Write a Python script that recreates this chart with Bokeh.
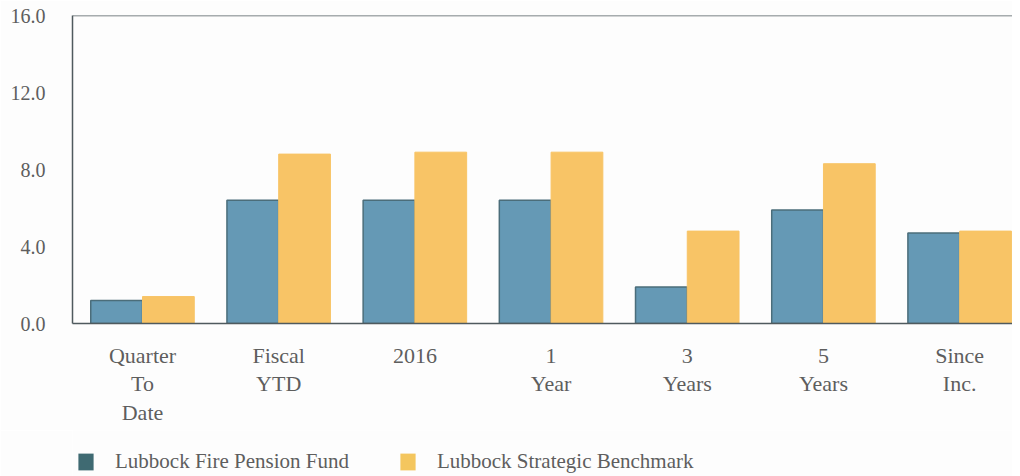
from bokeh.plotting import figure
from bokeh.layouts import column
from bokeh.models import (Range1d, FixedTicker, Span, Legend, LegendItem,
                          ColumnDataSource, NumeralTickFormatter)
from bokeh.embed import file_html
from bokeh.resources import INLINE

categories = ["Quarter\nTo\nDate", "Fiscal\nYTD", "2016", "1\nYear",
              "3\nYears", "5\nYears", "Since\nInc."]
fund = [1.2, 6.4, 6.4, 6.4, 1.9, 5.9, 4.7]
benchmark = [1.4, 8.8, 8.9, 8.9, 4.8, 8.3, 4.8]
y_ticks = [0, 4, 8, 12, 16]
series_names = ["Lubbock Fire Pension Fund", "Lubbock Strategic Benchmark"]

FONT = "Liberation Serif"
TEXT = "#5e5e5e"
AXIS = "#4f5a5e"
BG = "#fdfdfd"
BAR_W = 0.38

idx = list(range(len(categories)))
src = ColumnDataSource(dict(
    x_f=[i - BAR_W / 2 for i in idx],
    x_b=[i + BAR_W / 2 for i in idx],
    fund=fund, bench=benchmark))

p = figure(width=1012, height=430, output_backend="svg", toolbar_location=None,
           x_range=Range1d(-0.514, 6.388), y_range=Range1d(0, 16),
           min_border_left=72, min_border_right=0, min_border_top=15,
           min_border_bottom=107, background_fill_color=BG,
           border_fill_color=BG)
p.outline_line_color = None
p.xgrid.visible = False
p.ygrid.visible = False

p.vbar(x="x_f", top="fund", width=BAR_W, source=src, fill_color="#6599b5",
       line_color="#4b6d7a", line_width=1.5)
p.vbar(x="x_b", top="bench", width=BAR_W, source=src, fill_color="#f8c466",
       line_color="#f8c466", line_width=1)

# top border line
p.add_layout(Span(location=16, dimension="width", line_color=AXIS, line_width=1.5))

# axes
xa = p.xaxis[0]
xa.ticker = FixedTicker(ticks=idx)
xa.major_label_overrides = {i: c for i, c in zip(idx, categories)}
xa.major_tick_line_color = None
xa.minor_tick_line_color = None
xa.axis_line_color = AXIS
xa.axis_line_width = 1.5
xa.major_label_standoff = 13
xa.major_label_text_font = FONT
xa.major_label_text_font_size = "22px"
xa.major_label_text_color = TEXT
xa.major_label_text_line_height = 1.14

ya = p.yaxis[0]
ya.ticker = FixedTicker(ticks=y_ticks)
ya.formatter = NumeralTickFormatter(format="0.0")
ya.major_tick_line_color = None
ya.minor_tick_line_color = None
ya.axis_line_color = AXIS
ya.axis_line_width = 1.5
ya.major_label_standoff = 21
ya.major_label_text_font = FONT
ya.major_label_text_font_size = "20px"
ya.major_label_text_color = TEXT

# legend strip as a second figure below the chart
q = figure(width=1012, height=46, output_backend="svg", toolbar_location=None,
           x_range=Range1d(0, 1), y_range=Range1d(0, 1),
           x_axis_location=None, y_axis_location=None,
           min_border_left=0, min_border_right=0, min_border_top=0,
           min_border_bottom=0, background_fill_color=BG, border_fill_color=BG)
q.outline_line_color = None
q.grid.visible = False
lf = q.vbar(x="x_f", top="fund", width=BAR_W, source=src,
            fill_color="#3f6a72", line_color=None, visible=False)
lb = q.vbar(x="x_b", top="bench", width=BAR_W, source=src,
            fill_color="#f4c65e", line_color=None, visible=False)
legend = Legend(items=[LegendItem(label=series_names[0], renderers=[lf]),
                       LegendItem(label=series_names[1], renderers=[lb])],
                orientation="horizontal", location=(4, 2),
                glyph_width=19, glyph_height=21, label_height=21,
                label_standoff=20, spacing=49, padding=0, margin=0,
                border_line_color=None, background_fill_alpha=0,
                label_text_font=FONT, label_text_font_size="21px",
                label_text_color=TEXT)
q.add_layout(legend, "center")

open("out.html", "w").write(file_html(column(p, q, spacing=0), INLINE))
